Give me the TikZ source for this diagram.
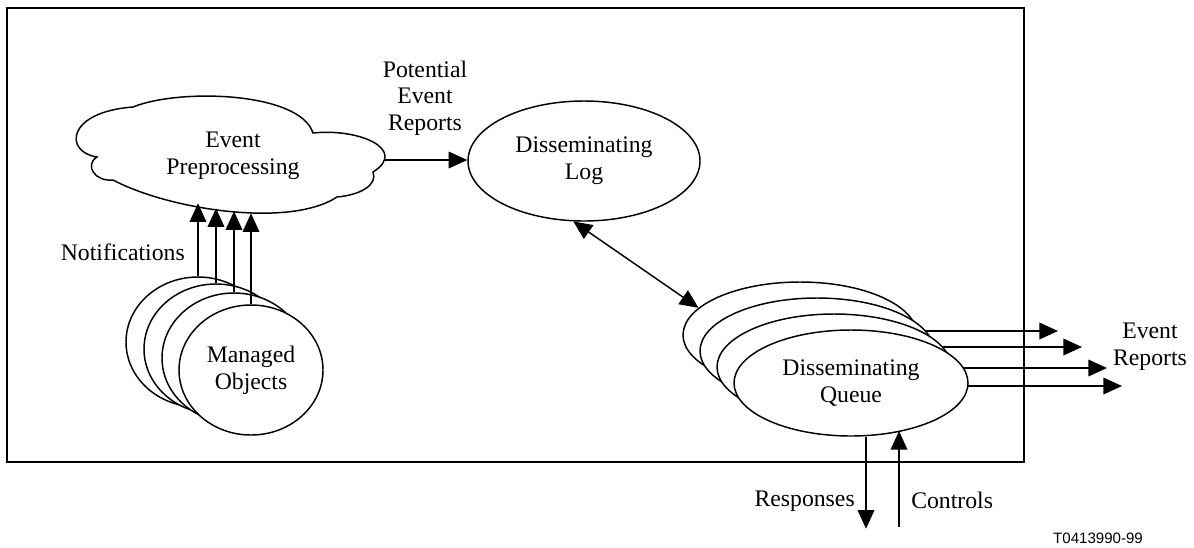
\documentclass[tikz,border=0pt]{standalone}
\usepackage{fontspec}
\setmainfont{Liberation Serif}
\newfontfamily\labelsans{Liberation Sans}
\usetikzlibrary{arrows.meta,shapes.geometric}
\begin{document}
\begin{tikzpicture}[x=0.75pt,y=-0.75pt,
  lbl/.style={font=\fontsize{17.8}{20}\selectfont, align=center, inner sep=0pt},
  ell/.style={draw, ellipse, line width=1.1pt, fill=white, inner sep=0pt, align=center, font=\fontsize{17.8}{20}\selectfont},
  qell/.style={ell, minimum width=175.5pt, minimum height=79.5pt},
  mobj/.style={ell, minimum width=108pt, minimum height=97.5pt},
  arr/.style={line width=1.1pt, -{Triangle[length=14pt,width=12.5pt]}},
  darr/.style={line width=1.1pt, {Triangle[length=14pt,width=12.5pt]}-{Triangle[length=14pt,width=12.5pt]}},
]
\useasboundingbox (0,0) rectangle (1194,547);
\draw[line width=1.2pt] (7,8) rectangle (1024,462);

% cloud
\draw[line width=1.1pt, fill=white] (97,157) .. controls (64,152) and (66,112) .. (133,107)
  .. controls (180,88) and (300,92) .. (313,133)
  .. controls (360,128) and (408,150) .. (373,172)
  .. controls (378,185) and (360,195) .. (337,197)
  .. controls (290,228) and (170,210) .. (113,180)
  .. controls (95,182) and (84,165) .. cycle;
\node[lbl] (ep) at (233,156) {Event\\Preprocessing};
\coordinate (epr) at (385,160);

% log
\node[ell, minimum width=174pt, minimum height=90pt] (log) at (584,161) {Disseminating\\Log};
\draw[arr] (epr) -- (epr -| log.west);
\node[lbl] (per) at (425,98) {Potential\\Event\\Reports};

% queue positions
\coordinate (q4c) at (800,335);
\coordinate (q3c) at (817,351);
\coordinate (q2c) at (834,367);
\coordinate (q1c) at (851,383);

% event report arrows (drawn behind the queues)
\draw[arr] ([shift={(117,-4)}]q4c) -- ++(141,0);
\draw[arr] ([shift={(117,-4)}]q3c) -- ++(148,0);
\draw[arr] ([shift={(117,1)}]q2c) -- ++(156,0);
\draw[arr] ([shift={(117,3)}]q1c) -- ++(154,0);

% queues
\node[qell] (q4) at (q4c) {};
\node[qell] (q3) at (q3c) {};
\node[qell] (q2) at (q2c) {};
\node[qell] (q1) at (q1c) {Disseminating\\Queue};

\draw[darr] (log.260) -- (q4.165);

\node[lbl] (er) at (1150,347) {Event\\Reports};

% responses / controls
\coordinate (ctl) at (899,527);
\draw[arr] ([xshift=11.25pt]q1.south) -- ++(0,92);
\draw[arr] (ctl) -- ++(0,-96);
\node[lbl, anchor=east] (resp) at (855,501) {Responses};
\node[lbl, anchor=west] (ctrl) at (911,500) {Controls};

% managed objects
\node[mobj] (c4) at (198,342) {};
\node[mobj] (c3) at (216,349) {};
\node[mobj] (c2) at (234,358) {};
\node[mobj] (c1) at (251,370) {Managed\\Objects};

\draw[arr] (c4.north) -- ++(0,-73);
\draw[arr] (c3.north) -- ++(0,-75);
\draw[arr] (c2.north) -- ++(0,-81);
\draw[arr] (c1.north) -- ++(0,-91);
\node[lbl, anchor=east] (notif) at (185,252) {Notifications};

\node[font=\labelsans\fontsize{11.3}{13}\selectfont, inner sep=0pt] (fig) at (1098,538) {T0413990-99};
\end{tikzpicture}
\end{document}
